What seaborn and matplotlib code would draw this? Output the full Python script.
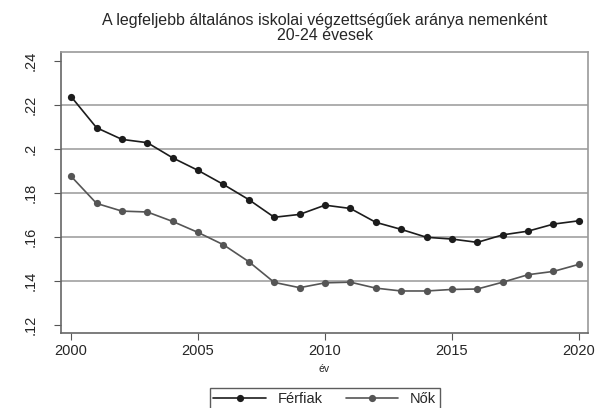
import matplotlib
matplotlib.use("Agg")
import matplotlib.pyplot as plt
import seaborn as sns
import pandas as pd
from matplotlib.ticker import FuncFormatter

years = list(range(2000, 2021))
ferfiak = [0.2238, 0.2097, 0.2044, 0.2029, 0.1960, 0.1903, 0.1839, 0.1770, 0.1690, 0.1703,
           0.1745, 0.1730, 0.1667, 0.1635, 0.1599, 0.1591, 0.1576, 0.1610, 0.1627, 0.1659, 0.1674]
nok = [0.1876, 0.1753, 0.1718, 0.1714, 0.1671, 0.1621, 0.1565, 0.1488, 0.1394, 0.1370,
       0.1392, 0.1395, 0.1368, 0.1355, 0.1355, 0.1362, 0.1364, 0.1395, 0.1429, 0.1444, 0.1476]
series_names = ["Férfiak", "Nők"]
yticks = [0.12, 0.14, 0.16, 0.18, 0.20, 0.22, 0.24]
xticks = [2000, 2005, 2010, 2015, 2020]
title = "A legfeljebb általános iskolai végzettségűek aránya nemenként\n20-24 évesek"
xlabel = "év"

df = pd.DataFrame({
    "év": years * 2,
    "arány": ferfiak + nok,
    "nem": [series_names[0]] * len(years) + [series_names[1]] * len(years),
})

sns.set_theme(style="white")
plt.rcParams["font.family"] = ["Liberation Sans", "DejaVu Sans"]

fig = plt.figure(figsize=(5.98, 4.08), dpi=100)
ax = fig.add_axes([0.102, 0.1838, 0.8813, 0.6887])

palette = {series_names[0]: "#1c1c1c", series_names[1]: "#555555"}
sns.lineplot(data=df, x="év", y="arány", hue="nem", palette=palette, marker="o",
             markersize=5.2, markeredgewidth=0, linewidth=1.2, legend=False, ax=ax)

ax.set_xlim(1999.6, 2020.36)
ax.set_ylim(0.1164, 0.2441)
ax.set_yticks(yticks)
ax.set_xticks(xticks)
ax.yaxis.set_major_formatter(FuncFormatter(lambda v, p: ("%.2f" % v).lstrip("0").rstrip("0").rstrip(".") if v != 0 else "0"))
ax.tick_params(axis="y", labelrotation=90, labelsize=10.5, length=5, width=0.8, color="#555555", pad=12)
ax.tick_params(axis="x", labelsize=10.5, length=5, width=0.8, color="#555555", pad=3)
for lab in ax.get_yticklabels():
    lab.set_verticalalignment("center")
ax.tick_params(left=True, bottom=True)

ax.grid(axis="y", color="#a8a8a8", linewidth=1.3)
ax.set_axisbelow(True)
gl = ax.yaxis.get_gridlines()
gl[0].set_visible(False)
gl[-1].set_visible(False)

for side in ["left", "bottom"]:
    ax.spines[side].set_color("#666666")
    ax.spines[side].set_linewidth(1.2)
for side in ["top", "right"]:
    ax.spines[side].set_color("#9a9a9a")
    ax.spines[side].set_linewidth(1.2)

ax.set_xlabel(xlabel, fontsize=7.5, labelpad=4)
ax.set_ylabel("")
ax.set_title(title, fontsize=11.5, linespacing=1.0, pad=9)

handles = ax.get_lines()[:2]
leg = fig.legend(handles, series_names, loc="upper center", bbox_to_anchor=(0.543, 0.066),
                 ncol=2, fontsize=10.5, frameon=True, fancybox=False, handlelength=3.6,
                 columnspacing=1.6, handletextpad=0.8, borderpad=0.25)
leg.get_frame().set_edgecolor("#333333")
leg.get_frame().set_linewidth(1.0)

fig.savefig("out.png", dpi=100)
